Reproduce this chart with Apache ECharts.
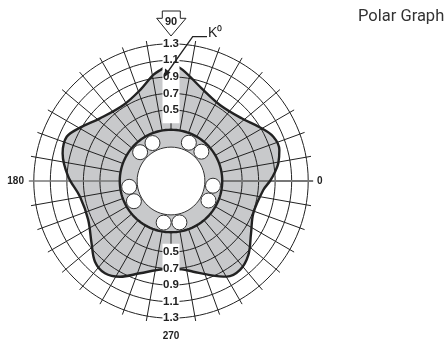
<!DOCTYPE html>
<html><head><meta charset="utf-8">
<style>html,body{margin:0;padding:0;background:#fff}#c{width:447px;height:340px}</style>
<script src="https://cdn.jsdelivr.net/npm/echarts@6/dist/echarts.min.js"></script>
</head><body><div id="c"></div>
<script>
// all radial values are in K0 units, angles in degrees
var ringValues = [0.5, 0.7, 0.9, 1.1, 1.3];
var ringLabels = ['0.5', '0.7', '0.9', '1.1', '1.3'];
var spokeAngles = [0,10,20,30,40,50,60,70,80,90,100,110,120,130,140,150,160,170,180,190,200,210,220,230,240,250,260,270,280,290,300,310,320,330,340,350];
var angleLabels = [['0', 1.44, 0], ['180', 1.52, 180], ['270', 1.52, 270], ['90', 1.565, 90]];
var outlineAngles = [90,84,70.5,57,41.6,31,23.4,16,9.4,5,0,354.4,338.6,326.8,316.3,307.8,300.2,292.5,283.8,277,270,265,251.4,242,234.4,226.7,218,205,189.8,177.6,165.7,157,149.6,138.6,122,108.8,99.5,95,90];
var outlinePixels = [118,111.7,96.6,90.4,94.5,104,111.5,112.7,108.8,104.4,99,92.7,88.4,95.6,107,112.6,110.7,101.8,93.4,89,88,88.6,97.4,108.4,113.5,110.8,100.8,91.4,92.3,102.8,111.8,113.3,105.5,94.7,89.7,96,107.5,112,118];
var holeValue = 0.05, ringInner = 0.26, spokeOuter = 1.36, ballValue = 0.151;
var ballAngles = [116,137,65,44,353.6,332.5,281.5,260,208.6,187.9];
var pxPerUnit = 82.65;
var outlineValues = outlinePixels.map(function(p){ return +(p / pxPerUnit - 0.36).toFixed(3); });

function circle(v){ var a=[]; for(var t=0;t<=360;t+=3) a.push([v,t]); return a; }
function lineS(data, color, width, z, extra){
  return Object.assign({type:'line',coordinateSystem:'polar',data:data,symbol:'none',silent:true,animation:false,z:z,
    lineStyle:{color:color,width:width}}, extra||{});
}
var series = [];
// shaded region
series.push(lineS(outlineValues.map(function(v,i){return [v,outlineAngles[i]];}),'#c8c9cb',0,1,
  {smooth:0.35,areaStyle:{color:'#c8c9cb',opacity:1,origin:'start'}}));
// rings
ringValues.forEach(function(v){ series.push(lineS(circle(v),'#222',1,2)); });
// spokes
spokeAngles.forEach(function(a){
  var axisLine = (a===0||a===180);
  series.push(lineS([[ringInner,a],[spokeOuter,a]], axisLine?'#777':'#222', a===0?2:(a===180?1.4:1), axisLine?3:2));
});
// outline
series.push(lineS(outlineValues.map(function(v,i){return [v,outlineAngles[i]];}),'#222',2.4,4,{smooth:0.35}));
// white label bands at 90 and 270
series.push(lineS([[0.34,90],[1.42,90]],'#fff',17,5));
series.push(lineS([[0.40,270],[1.42,270]],'#fff',17,5));
// hub
series.push(lineS(circle(ringInner),'#222',2.4,6));
series.push(lineS(circle(holeValue),'#333',1,6,{areaStyle:{color:'#fff',opacity:1,origin:'start'}}));
series.push({type:'scatter',coordinateSystem:'polar',silent:true,animation:false,z:7,symbolSize:15,
  data:ballAngles.map(function(a){return [ballValue,a];}),
  itemStyle:{color:'#fff',borderColor:'#333',borderWidth:1,opacity:1}});
var lblFont = {fontFamily:'"Liberation Sans Narrow","Liberation Sans",sans-serif',fontWeight:'bold',color:'#222'};
series.push({type:'scatter',coordinateSystem:'polar',silent:true,animation:false,z:8,symbolSize:1,
  data:ringValues.map(function(v,i){return {value:[v,90],label:{formatter:ringLabels[i]}};})
   .concat(ringValues.map(function(v,i){return {value:[v,270],label:{formatter:ringLabels[i]}};}))
   .concat(angleLabels.map(function(l){return {value:[l[1],l[2]],label:{formatter:l[0],fontSize:l[0]==='90'?11:10}};})),
  itemStyle:{color:'transparent'},
  label:Object.assign({show:true,position:'inside',fontSize:11.5,opacity:1},lblFont)});

var chart = echarts.init(document.getElementById('c'),null,{renderer:'canvas'});
chart.setOption({
  backgroundColor:'#fff',
  animation:false,
  polar:{center:[171,181],radius:[0,162]},
  angleAxis:{type:'value',min:0,max:360,startAngle:0,clockwise:false,show:false},
  radiusAxis:{type:'value',min:-0.36,max:1.6,show:false},
  series:series,
  graphic:[
    {type:'polygon',z:9,silent:true,shape:{points:[[162.3,11],[180.3,11],[180.3,18.3],[186,18.3],[171,36],[156.7,18.3],[162.3,18.3]]},
      style:{fill:'#fff',stroke:'#222',lineWidth:1}},
    {type:'text',z:10,silent:true,x:171,y:22,style:{text:'90',align:'center',verticalAlign:'middle',fontSize:11,fontFamily:lblFont.fontFamily,fontWeight:'bold',fill:'#222'}},
    {type:'polyline',z:11,silent:true,shape:{points:[[207,36.7],[192.7,36.7],[167,73]]},style:{stroke:'#222',lineWidth:1.3,fill:null}},
    {type:'polygon',z:11,silent:true,shape:{points:[[164.5,77],[165,68.5],[170.5,72.5]]},style:{fill:'#222'}},
    {type:'text',z:10,silent:true,x:208,y:33,style:{text:'K\u2070',align:'left',verticalAlign:'middle',fontSize:14,fontFamily:'"Liberation Sans Narrow","Liberation Sans",sans-serif',fill:'#222'}},
    {type:'text',z:10,silent:true,x:358,y:17,style:{text:'Polar Graph',align:'left',verticalAlign:'middle',fontSize:16.5,fontFamily:'Roboto,sans-serif',fill:'#333'}}
  ]
});
</script></body></html>
